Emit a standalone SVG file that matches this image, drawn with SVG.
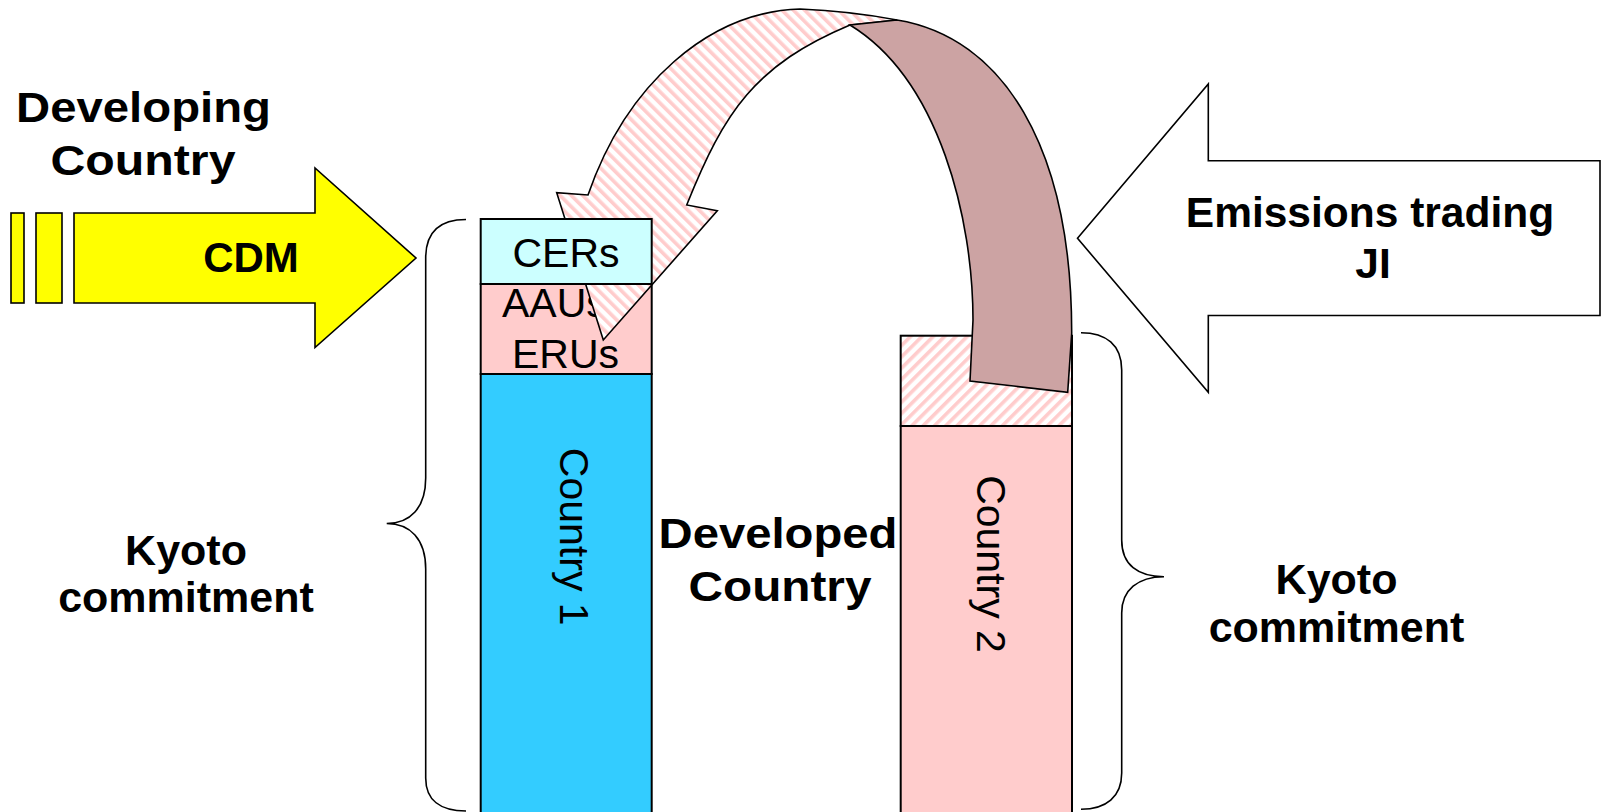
<svg xmlns="http://www.w3.org/2000/svg" width="1603" height="812" viewBox="0 0 1603 812">
<defs>
<style>
.t{font-family:"Liberation Sans",Arial,sans-serif;fill:#000}
.bl{font-weight:bold;text-anchor:middle}
.rg{font-size:41px}
.box{stroke:#000;stroke-width:2}
.sh{stroke:#000;stroke-width:1.6;stroke-linejoin:miter}
.brace{fill:none;stroke:#000;stroke-width:1.6}
</style>
<pattern id="hUp" patternUnits="userSpaceOnUse" width="8" height="8" patternTransform="rotate(45)">
<rect width="8" height="8" fill="#fff"/><rect width="3.6" height="8" fill="#FFCCCC"/>
</pattern>
<pattern id="hDn" patternUnits="userSpaceOnUse" width="8" height="8" patternTransform="rotate(-45)">
<rect width="8" height="8" fill="#fff"/><rect width="3.6" height="8" fill="#FFCCCC"/>
</pattern>
</defs>
<rect width="1603" height="812" fill="#fff"/>

<g id="developing-label">
<text class="t bl" x="143.5" y="122" font-size="42" textLength="255" lengthAdjust="spacingAndGlyphs">Developing</text>
<text class="t bl" x="143" y="174.5" font-size="42" textLength="185" lengthAdjust="spacingAndGlyphs">Country</text>
</g>

<g id="cdm-arrow">
<rect class="sh" x="11" y="213" width="13" height="90" fill="#FFFF00"/>
<rect class="sh" x="36" y="213" width="26" height="90" fill="#FFFF00"/>
<polygon class="sh" points="74,213 315,213 315,168 416,258 315,347.5 315,303 74,303" fill="#FFFF00"/>
<text class="t bl" x="251" y="272" font-size="42">CDM</text>
</g>

<g id="brace-left">
<path class="brace" d="M466,219.5 C440,219.5 425.7,232 425.7,258 L425.7,478 C425.7,508 410,523.5 386.7,523.5 C410,523.5 425.7,539 425.7,569 L425.7,778 C425.7,800 440,811 466,811"/>
</g>

<g id="kyoto-left">
<text class="t bl" x="186" y="564.5" font-size="43">Kyoto</text>
<text class="t bl" x="186" y="611.5" font-size="43">commitment</text>
</g>

<g id="country1">
<rect class="box" x="480.7" y="284" width="171" height="90" fill="#FFCCCC"/>
<text class="t rg" x="502" y="317">AAUs</text>
<text class="t rg" x="565.5" y="368" text-anchor="middle">ERUs</text>
<rect class="box" x="480.7" y="374" width="171" height="450" fill="#33CCFF"/>
<text class="t rg" text-anchor="middle" transform="translate(560,536.7) rotate(90)">Country 1</text>
</g>

<g id="developed-label">
<text class="t bl" x="778" y="547.5" font-size="42" textLength="239" lengthAdjust="spacingAndGlyphs">Developed</text>
<text class="t bl" x="780" y="600.5" font-size="42" textLength="183" lengthAdjust="spacingAndGlyphs">Country</text>
</g>

<g id="country2">
<rect class="box" x="900.7" y="335.7" width="171.3" height="90.3" fill="url(#hUp)"/>
<rect class="box" x="900.7" y="426" width="171.3" height="400" fill="#FFCCCC"/>
<text class="t rg" text-anchor="middle" transform="translate(976.5,564) rotate(90)">Country 2</text>
</g>

<g id="connectors">
<path class="sh" fill="url(#hDn)" d="M897,20 Q850,11 800,9 A240 321 0 0 0 588,195 L556.7,192.7 L603.3,340 L717.3,210.7 L686.7,205 C724.4,111 755,65 850,25 Z"/>
<path class="sh" fill="#CCA3A3" d="M897,20 C1002,37 1071.7,145 1071.7,333 L1067.7,392.3 L970,381 L973,320 C973,220 940,80 850,25 Z"/>
</g>

<g id="cers">
<rect class="box" x="480.7" y="219" width="171" height="65" fill="#CCFFFF"/>
<text class="t rg" x="566" y="267" text-anchor="middle">CERs</text>
</g>

<g id="brace-right">
<path class="brace" d="M1081,332.7 C1106,332.7 1121.7,345 1121.7,370 L1121.7,540 C1121.7,565 1138,576.7 1164,576.7 C1138,576.7 1121.7,590 1121.7,613 L1121.7,773 C1121.7,797 1106,809.3 1081,809.3"/>
</g>

<g id="kyoto-right">
<text class="t bl" x="1336.5" y="594" font-size="43">Kyoto</text>
<text class="t bl" x="1336.5" y="642" font-size="43">commitment</text>
</g>

<g id="trading-arrow">
<polygon class="sh" fill="#fff" points="1600,160.7 1208.3,160.7 1208.3,84 1077.5,238.3 1208.3,392.3 1208.3,315.5 1600,315.5"/>
<text class="t bl" x="1370" y="226.7" font-size="42.5">Emissions trading</text>
<text class="t bl" x="1373" y="278.3" font-size="42.5">JI</text>
</g>
</svg>
